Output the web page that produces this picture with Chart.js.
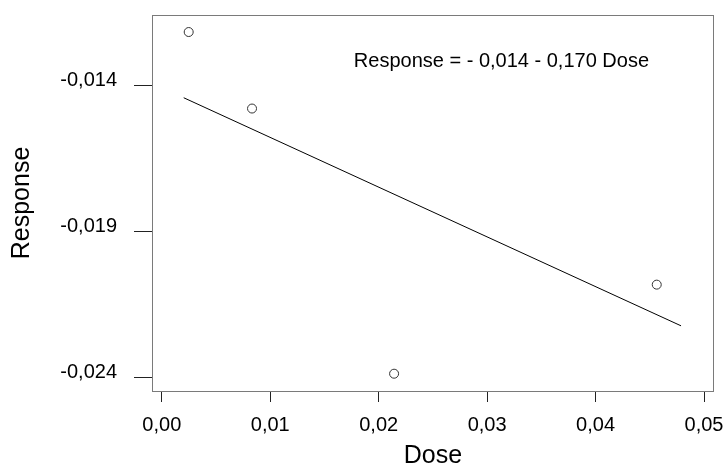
<!DOCTYPE html>
<html>
<head>
<meta charset="utf-8">
<script src="https://cdn.jsdelivr.net/npm/chart.js@4/dist/chart.umd.min.js"></script>
<style>
  html, body { margin: 0; padding: 0; background: #fff; }
  #wrap { width: 725px; height: 471px; }
</style>
</head>
<body>
<div id="wrap"><canvas id="doseChart" width="725" height="471"></canvas></div>
<script>
// Data
const doseValues = [0.00248, 0.00832, 0.02142, 0.04564];
const responseValues = [-0.01216, -0.01478, -0.02386, -0.02081];

// fitted line end points
const fitDose = [0.00202, 0.04788];
const fitResponse = [-0.01441, -0.02222];

const xTickValues = [0.00, 0.01, 0.02, 0.03, 0.04, 0.05];
const xTickLabels = ['0,00', '0,01', '0,02', '0,03', '0,04', '0,05'];
const yTickValues = [-0.024, -0.019, -0.014];
const yTickLabels = ['-0,024', '-0,019', '-0,014'];

const equationText = 'Response = - 0,014 - 0,170 Dose';

// ---------------------------------------------------------------------------
const FONT = "'Liberation Sans', Arial, sans-serif";

// box round the plot area + the equation text
const frameAndLabel = {
    id: 'frameAndLabel',
    afterDraw(chart) {
        const { ctx, chartArea: a, scales } = chart;
        ctx.save();
        ctx.strokeStyle = '#7a7a7a';
        ctx.lineWidth = 1;
        ctx.strokeRect(a.left + 0.5, a.top + 0.5, a.right - a.left - 1, a.bottom - a.top);
        ctx.fillStyle = '#000';
        ctx.font = '20px ' + FONT;
        ctx.textAlign = 'left';
        ctx.textBaseline = 'middle';
        ctx.fillText(equationText, scales.x.getPixelForValue(0.01771), scales.y.getPixelForValue(-0.01317));
        ctx.restore();
    }
};

const points = doseValues.map((d, i) => ({ x: d, y: responseValues[i] }));
const fitLine = fitDose.map((d, i) => ({ x: d, y: fitResponse[i] }));

new Chart(document.getElementById('doseChart'), {
    type: 'scatter',
    data: {
        datasets: [
            {
                label: 'Fit',
                type: 'line',
                data: fitLine,
                borderColor: '#000',
                borderWidth: 1,
                pointRadius: 0,
                fill: false,
                tension: 0
            },
            {
                label: 'Response',
                data: points,
                pointRadius: 4.5,
                pointBorderWidth: 1,
                pointBorderColor: '#333',
                pointBackgroundColor: '#fff'
            }
        ]
    },
    options: {
        responsive: false,
        animation: false,
        layout: { padding: { left: 0, right: 11, top: 15, bottom: 0 } },
        plugins: { legend: { display: false }, tooltip: { enabled: false } },
        scales: {
            x: {
                type: 'linear',
                min: -0.000904,
                max: 0.05092,
                afterBuildTicks: (s) => { s.ticks = xTickValues.map(v => ({ value: v })); },
                afterFit: (s) => {
                    s.height = 80;
                    s.paddingLeft = 0;
                    s.paddingRight = 0;
                },
                grid: { drawOnChartArea: false, tickLength: 11, color: '#222' },
                border: { display: false },
                ticks: {
                    color: '#000',
                    font: { family: FONT, size: 20 },
                    padding: 11,
                    maxRotation: 0,
                    callback: (v) => xTickLabels[xTickValues.indexOf(v)]
                },
                title: {
                    display: true,
                    text: 'Dose',
                    color: '#000',
                    font: { family: FONT, size: 25 },
                    padding: 0
                }
            },
            y: {
                type: 'linear',
                min: -0.024452,
                max: -0.011577,
                afterBuildTicks: (s) => { s.ticks = yTickValues.map(v => ({ value: v })); },
                afterFit: (s) => {
                    s.width = 152;
                    s.paddingTop = 0;
                    s.paddingBottom = 0;
                },
                grid: { drawOnChartArea: false, tickLength: 18, color: '#222' },
                border: { display: false },
                ticks: {
                    color: '#000',
                    font: { family: FONT, size: 20, lineHeight: '11px' },
                    padding: 17,
                    // second empty line lifts the label a little, like the original
                    callback: (v) => [yTickLabels[yTickValues.indexOf(v)], '']
                },
                title: {
                    display: true,
                    text: 'Response',
                    color: '#000',
                    font: { family: FONT, size: 25 },
                    padding: { top: 7, bottom: 0 }
                }
            }
        }
    },
    plugins: [frameAndLabel]
});
</script>
</body>
</html>
